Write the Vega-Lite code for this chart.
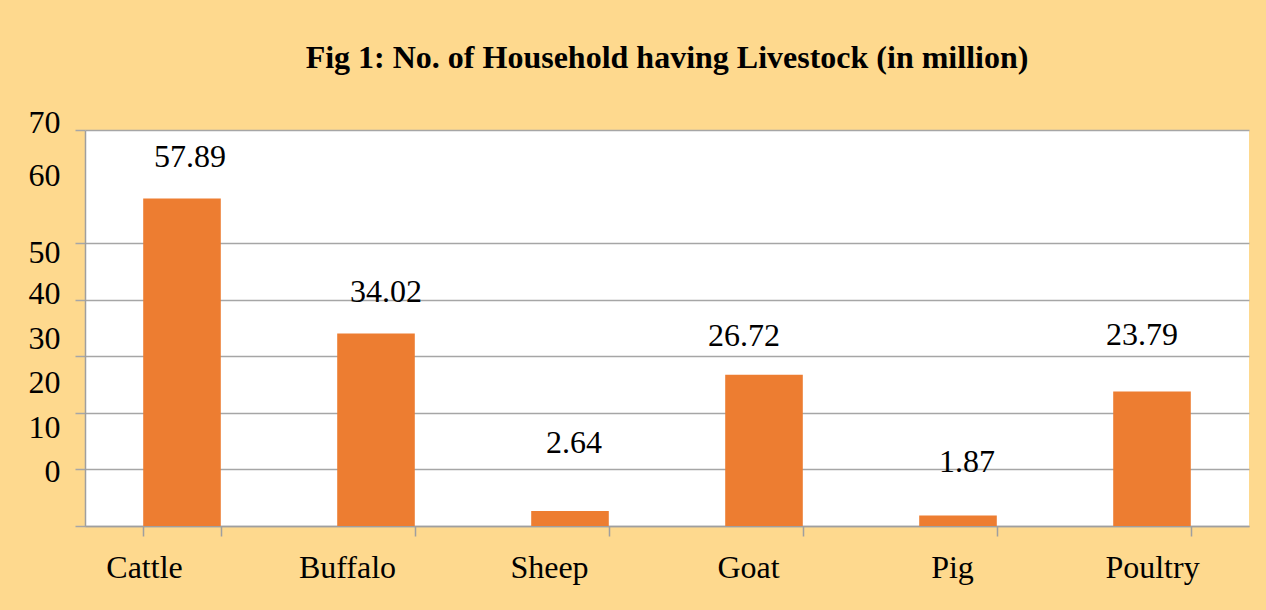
{
  "$schema": "https://vega.github.io/schema/vega-lite/v6.json",
  "autosize": "none",
  "width": 1164,
  "height": 396,
  "padding": {"left": 85, "top": 130, "right": 17, "bottom": 84},
  "background": "#fed98e",
  "title": {
    "text": "Fig 1: No. of  Household having Livestock (in million)",
    "font": "Liberation Serif",
    "fontSize": 32,
    "fontWeight": "bold",
    "color": "#000000",
    "anchor": "middle",
    "offset": 31
  },
  "config": {
    "view": {"fill": "#ffffff", "stroke": null},
    "font": "Liberation Serif",
    "text": {"font": "Liberation Serif"},
    "axis": {"labelFont": "Liberation Serif"}
  },
  "data": {
    "values": [
      {"animal": "Cattle", "households": 57.89},
      {"animal": "Buffalo", "households": 34.02},
      {"animal": "Sheep", "households": 2.64},
      {"animal": "Goat", "households": 26.72},
      {"animal": "Pig", "households": 1.87},
      {"animal": "Poultry", "households": 23.79}
    ]
  },
  "encoding": {
    "x": {
      "field": "animal",
      "type": "nominal",
      "sort": null,
      "scale": {"paddingInner": 0.6, "paddingOuter": 0.3},
      "axis": {
        "title": null,
        "labelAngle": 0,
        "labelFont": "Liberation Serif",
        "labelFontSize": 32,
        "labelColor": "#000000",
        "labelPadding": 16,
        "labelOffset": {
          "condition": [
            {"test": "datum.value == 'Cattle'", "value": -38},
            {"test": "datum.value == 'Buffalo'", "value": -29},
            {"test": "datum.value == 'Sheep'", "value": -21},
            {"test": "datum.value == 'Goat'", "value": -16},
            {"test": "datum.value == 'Pig'", "value": -6}
          ],
          "value": 0
        },
        "tickBand": "extent",
        "tickSize": 10,
        "tickColor": "#9f9f9f",
        "domainColor": "#9f9f9f",
        "domainWidth": 1.5,
        "tickWidth": 1.5
      }
    },
    "y": {
      "field": "households",
      "type": "quantitative",
      "scale": {"domain": [0, 70], "nice": false},
      "axis": {
        "title": null,
        "values": [0, 10, 20, 30, 40, 50, 60, 70],
        "labelFont": "Liberation Serif",
        "labelFontSize": 32,
        "labelColor": "#000000",
        "labelPadding": 15,
        "labelOffset": {
          "condition": [
            {"test": "datum.value == 70", "value": -8},
            {"test": "datum.value == 60", "value": -11},
            {"test": "datum.value == 50", "value": 9},
            {"test": "datum.value == 40", "value": -6},
            {"test": "datum.value == 30", "value": -18},
            {"test": "datum.value == 20", "value": -30},
            {"test": "datum.value == 10", "value": -42},
            {"test": "datum.value == 0", "value": -55}
          ],
          "value": 0
        },
        "grid": true,
        "gridColor": "#a6a6a6",
        "gridWidth": 1.5,
        "gridOpacity": {"condition": {"test": "datum.value == 60", "value": 0}, "value": 1},
        "tickOpacity": {"condition": {"test": "datum.value == 60", "value": 0}, "value": 1},
        "tickSize": 10,
        "tickColor": "#a6a6a6",
        "tickWidth": 1.5,
        "domainColor": "#9f9f9f",
        "domainWidth": 1.5
      }
    }
  },
  "layer": [
    {
      "mark": {"type": "bar", "color": "#ed7d31"}
    },
    {
      "mark": {
        "type": "text",
        "font": "Liberation Serif",
        "fontSize": 32,
        "color": "#000000",
        "baseline": "middle",
        "dy": {"expr": "datum.animal == 'Cattle' ? -42 : datum.animal == 'Buffalo' ? -42 : datum.animal == 'Sheep' ? -68 : datum.animal == 'Goat' ? -39 : datum.animal == 'Pig' ? -53 : -56"},
        "dx": {"expr": "datum.animal == 'Cattle' ? 8 : datum.animal == 'Buffalo' ? 10 : datum.animal == 'Sheep' ? 4 : datum.animal == 'Goat' ? -20 : datum.animal == 'Pig' ? 9 : -10"}
      },
      "encoding": {
        "text": {"field": "households", "type": "quantitative", "format": ".2f"}
      }
    }
  ]
}
